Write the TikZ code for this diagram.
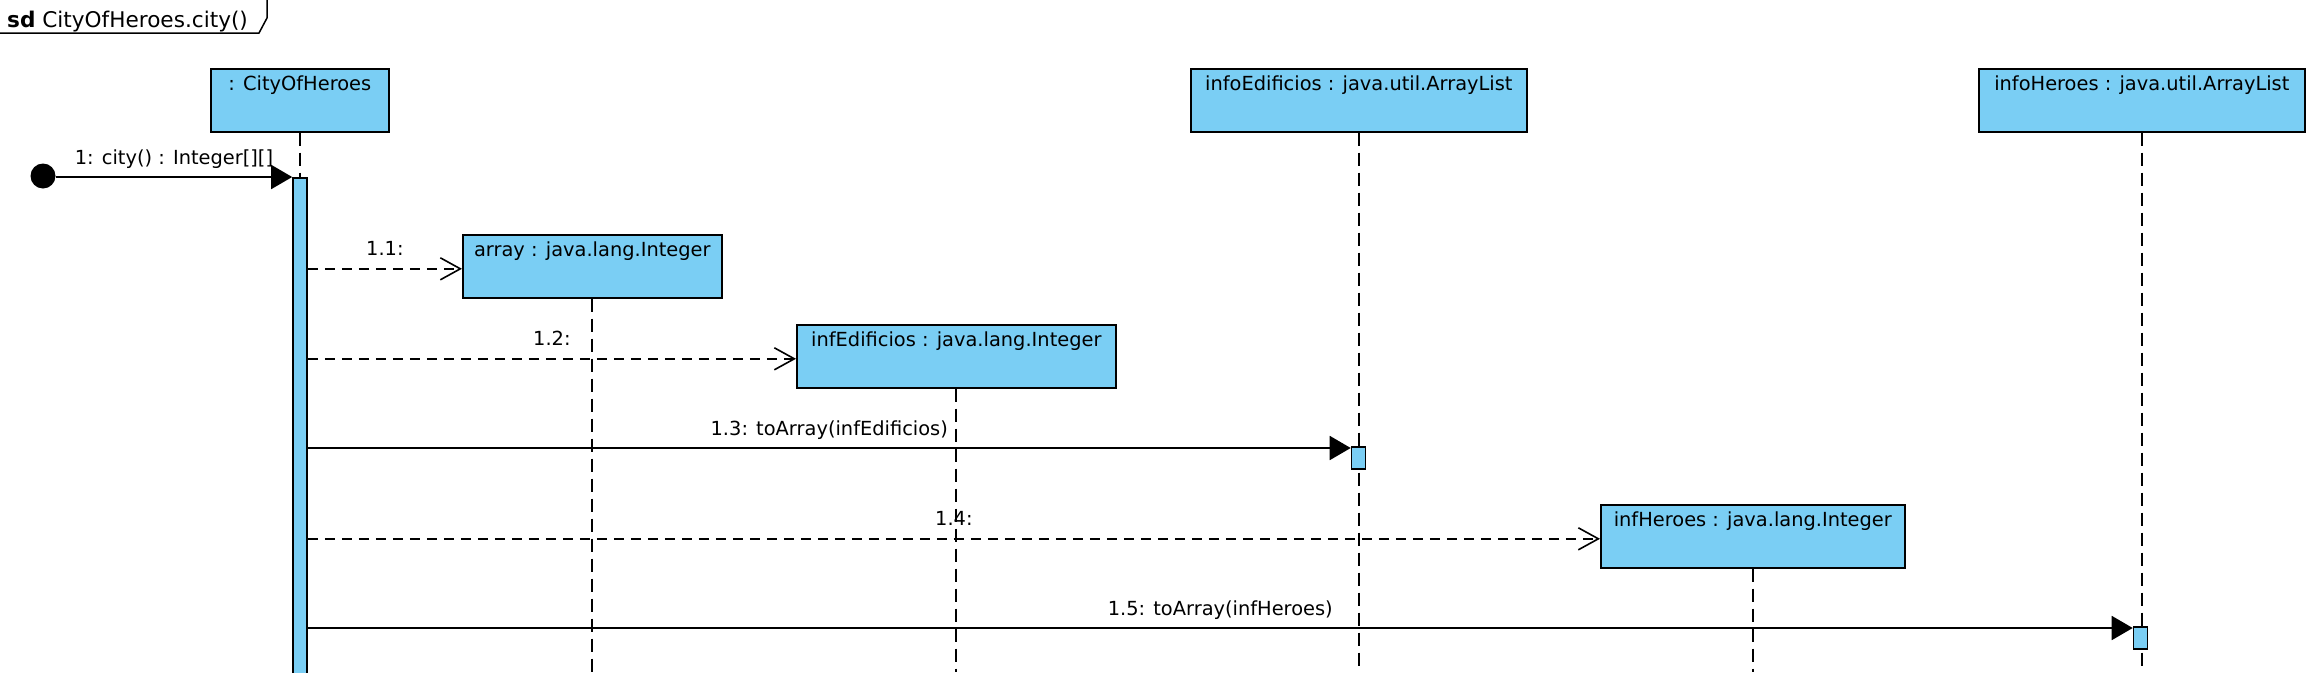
\documentclass[tikz,border=0pt]{standalone}
\usepackage{fontspec}
\setmainfont{DejaVu Sans}
\usetikzlibrary{arrows.meta}
\definecolor{objblue}{RGB}{122,206,244}
\begin{document}
\begin{tikzpicture}[x=1pt,y=-1pt,
  every node/.style={font=\fontsize{19.4}{23}\selectfont},
  obj/.style={draw, fill=objblue, line width=1.6pt, anchor=north west, inner sep=0pt, text height=22pt, text depth=41pt},
  act/.style={draw, fill=objblue, line width=1.6pt, inner sep=0pt, minimum width=14pt, anchor=north},
  lifeline/.style={line width=1.9pt, dash pattern=on 13pt off 7pt},
  syncmsg/.style={line width=1.8pt, -{Triangle[length=21pt,width=24pt]}},
  createmsg/.style={line width=1.6pt, dash pattern=on 10pt off 7pt, -{Straight Barb[length=20pt,width=22pt,line width=1.6pt]}},
  msglabel/.style={anchor=base, yshift=13pt, inner sep=0pt}
]
\useasboundingbox (0,0) rectangle (2320,672);
\clip (0,0) rectangle (2320,672);
\fill[white] (0,0) rectangle (2320,672);
\coordinate (bot) at (0,672);

% frame tab
\node[anchor=base west, inner sep=0pt, font=\fontsize{21.6}{25}\selectfont] (title) at (7,27) {\textbf{sd} CityOfHeroes.city()};
\draw[line width=1.5pt] (0,33) -- (259,33) -- (267,18) -- (267,-2);

% objects
\node[obj, minimum width=178pt] (coh) at (210,68) {: CityOfHeroes};
\node[obj, minimum width=259pt] (arr) at (462,234) {array : java.lang.Integer};
\node[obj, minimum width=319pt] (inf) at (796,324) {infEdificios : java.lang.Integer};
\node[obj, minimum width=336pt] (infoE) at (1190,68) {infoEdificios : java.util.ArrayList};
\node[obj, minimum width=304pt] (infH) at (1600,504) {infHeroes : java.lang.Integer};
\node[obj, minimum width=326pt] (infoH) at (1978,68) {infoHeroes : java.util.ArrayList};

% lifelines
\draw[lifeline] (coh.south) -- (coh.south |- 0,177);
\draw[lifeline] (arr.south) -- (arr.south |- bot);
\draw[lifeline] (inf.south) -- (inf.south |- bot);
\draw[lifeline] (infoE.south) -- (infoE.south |- bot);
\draw[lifeline] (infH.south) -- (infH.south |- bot);
\draw[lifeline] (infoH.south) -- (infoH.south |- bot);

% activation bars
\node[act, minimum height=520pt] (act0) at (300,177) {};
\node[act, minimum height=22pt] (act1) at (1358.5,446) {};
\node[act, minimum height=22pt] (act2) at (2140.5,626) {};

% start
\node[circle, fill=black, inner sep=0pt, minimum size=25pt] (start) at (43,176) {};

% messages
\draw[syncmsg] (start.east |- act0.north west) -- (act0.north west)
  node[msglabel, midway] {1: city() : Integer[][]};

\coordinate (e11) at ([yshift=-2.5pt]arr.west);
\draw[createmsg] (act0.east |- e11) -- (e11) node[msglabel, midway] {1.1:};

\coordinate (e12) at ([yshift=-2.5pt]inf.west);
\draw[createmsg] (act0.east |- e12) -- (e12) node[msglabel, midway] {1.2:};

\coordinate (e13) at ([yshift=-2pt]act1.north west);
\draw[syncmsg] (act0.east |- e13) -- (e13) node[msglabel, midway] {1.3: toArray(infEdificios)};

\coordinate (e14) at ([yshift=-2.5pt]infH.west);
\draw[createmsg] (act0.east |- e14) -- (e14) node[msglabel, midway] {1.4:};

\coordinate (e15) at ([yshift=-2pt]act2.north west);
\draw[syncmsg] (act0.east |- e15) -- (e15) node[msglabel, midway] {1.5: toArray(infHeroes)};
\end{tikzpicture}
\end{document}
